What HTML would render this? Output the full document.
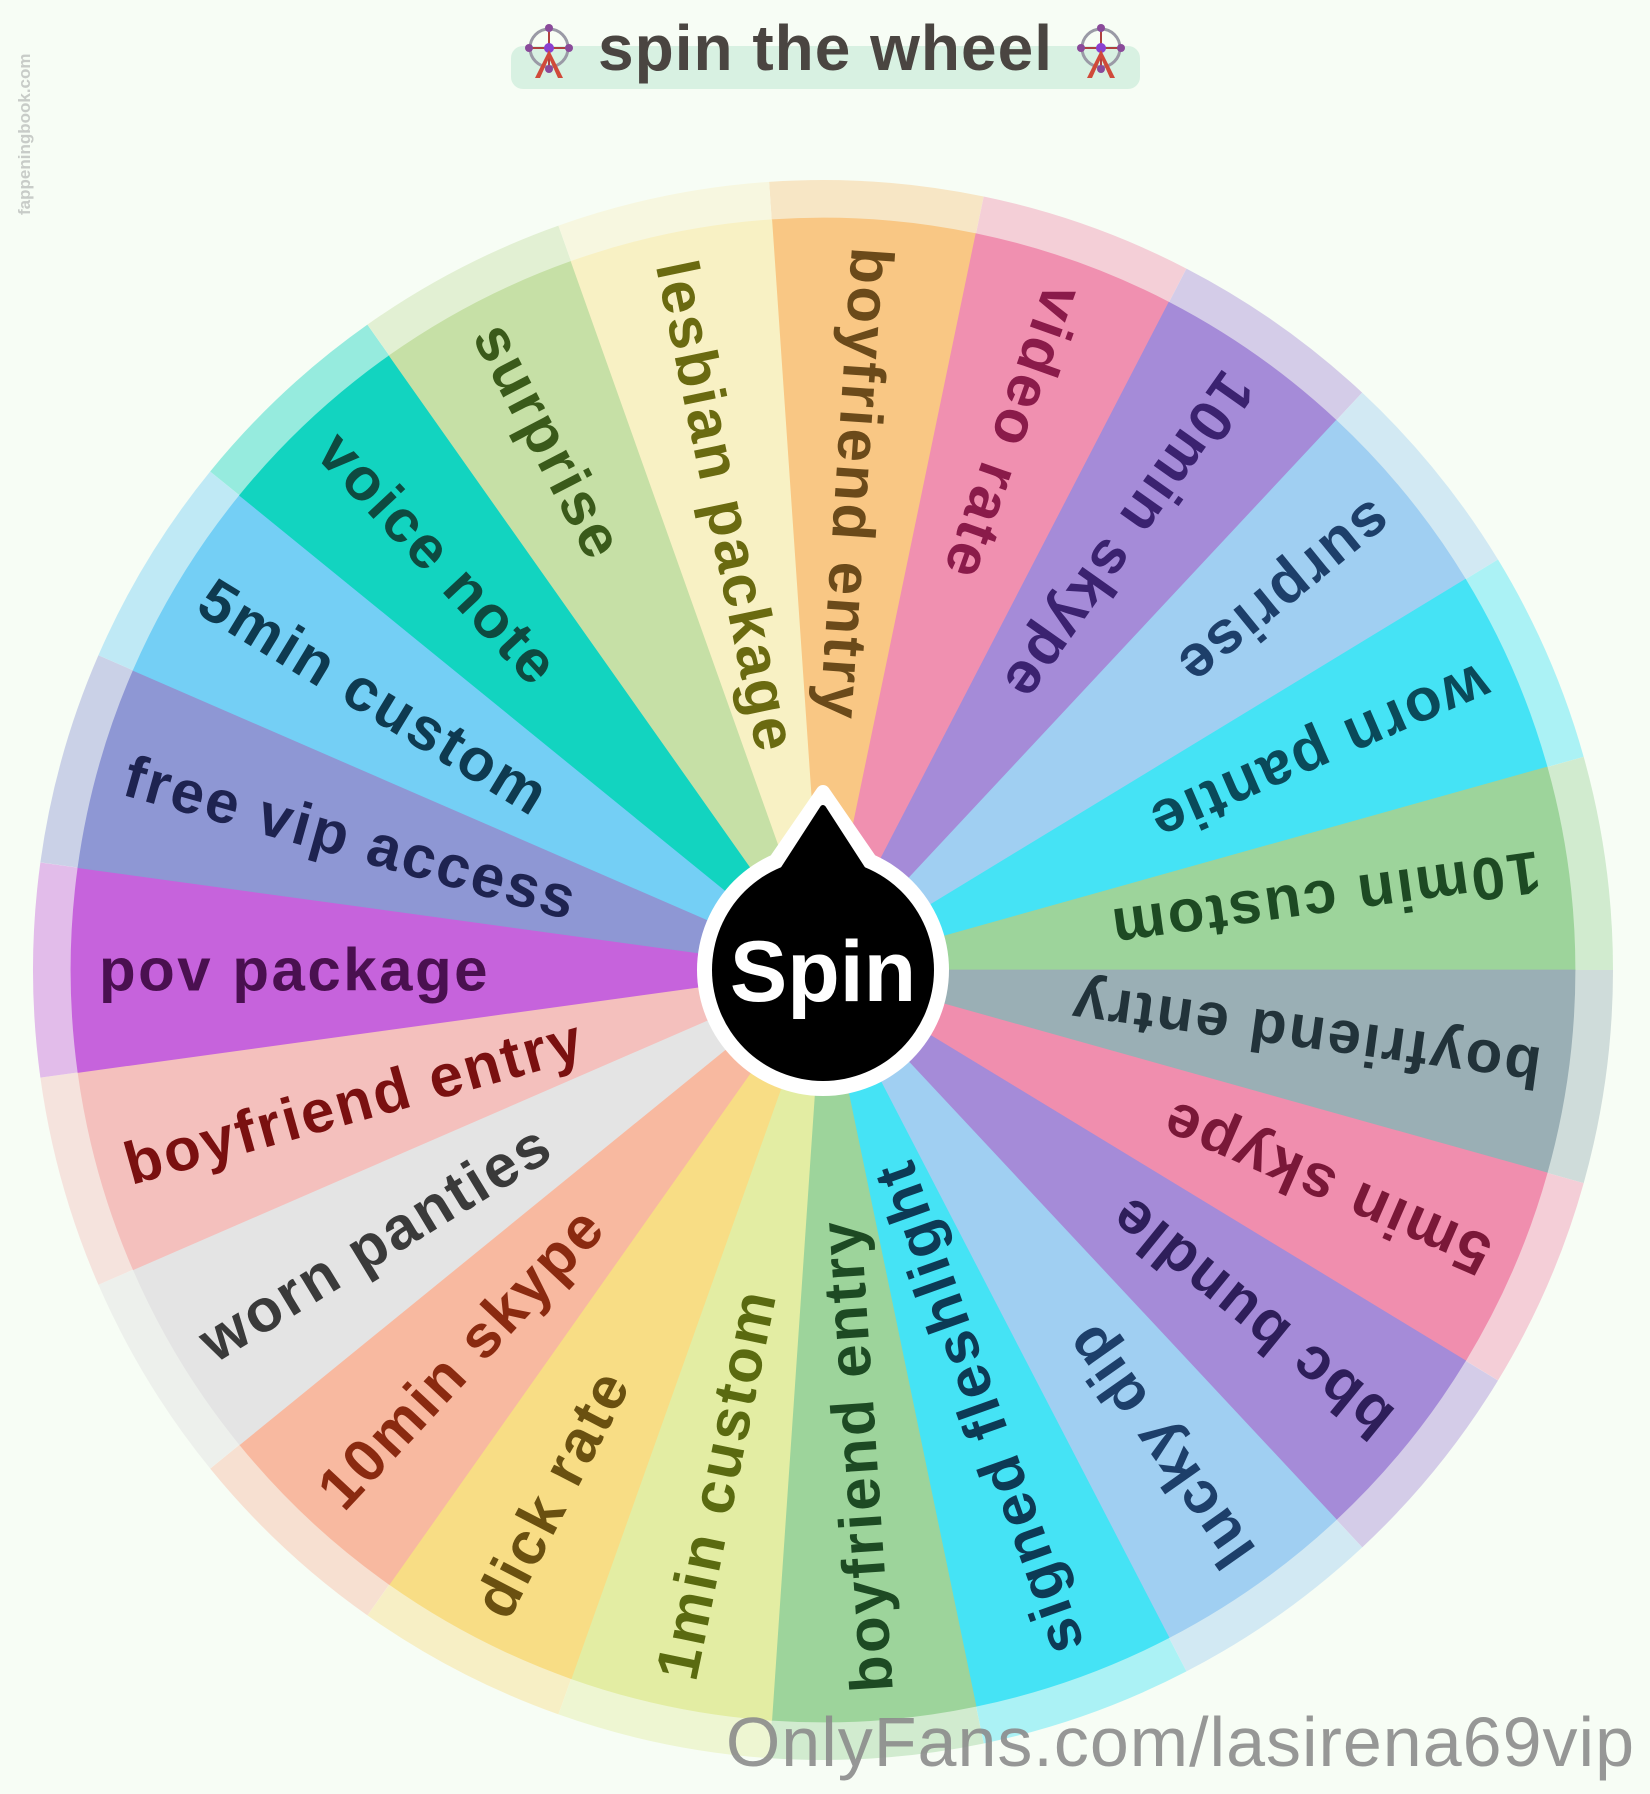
<!DOCTYPE html>
<html><head><meta charset="utf-8"><style>
html,body{margin:0;padding:0;background:#f7fdf5;}
svg{display:block;}
text{font-family:"Liberation Sans",sans-serif;}
</style></head><body>
<svg width="1650" height="1794" viewBox="0 0 1650 1794" xmlns="http://www.w3.org/2000/svg">
<rect width="1650" height="1794" fill="#f7fdf5"/>
<defs>
<path id="o" d="M823 970 L823 180 A790 790 0 0 1 1036.1 209.3 Z"/>
<path id="w" d="M823 970 L823 218 A752 752 0 0 1 1025.9 245.9 Z"/>
</defs>
<!-- title -->
<rect x="511" y="46" width="629" height="43" rx="12" fill="#d8f1e2"/>
<text x="598" y="70" font-size="64" font-weight="bold" fill="#4a4541" letter-spacing="1">spin the wheel</text>
<g id="fw" transform="translate(549 48)">
<circle r="19" fill="none" stroke="#9a9aa6" stroke-width="3"/>
<line x1="-19" y1="0" x2="19" y2="0" stroke="#b04040" stroke-width="2"/><line x1="0" y1="-19" x2="0" y2="19" stroke="#b04040" stroke-width="2"/>
<circle r="5" fill="#8a40d0"/>
<polygon points="0,2 -14,30 -9,30 0,10 9,30 14,30" fill="#d04a3a"/>
<circle cx="0" cy="-20" r="4" fill="#8a4a9a"/><circle cx="-20" cy="0" r="4" fill="#8a4a9a"/><circle cx="20" cy="0" r="4" fill="#8a4a9a"/><circle cx="0" cy="21" r="4" fill="#8a4a9a"/>
</g>
<use href="#fw" transform="translate(552 0)"/>
<!-- outer ring -->
<g opacity="0.42">
<use href="#o" fill="#f9c784" transform="rotate(-3.913 823 970)"/>
<use href="#o" fill="#f090b0" transform="rotate(11.739 823 970)"/>
<use href="#o" fill="#a58bd8" transform="rotate(27.391 823 970)"/>
<use href="#o" fill="#a0cff2" transform="rotate(43.043 823 970)"/>
<use href="#o" fill="#45e3f5" transform="rotate(58.696 823 970)"/>
<use href="#o" fill="#9dd49b" transform="rotate(74.348 823 970)"/>
<use href="#o" fill="#9aafb5" transform="rotate(90 823 970)"/>
<use href="#o" fill="#f08eae" transform="rotate(105.652 823 970)"/>
<use href="#o" fill="#a58bd8" transform="rotate(121.304 823 970)"/>
<use href="#o" fill="#a0cff2" transform="rotate(136.957 823 970)"/>
<use href="#o" fill="#45e3f5" transform="rotate(152.609 823 970)"/>
<use href="#o" fill="#9dd49b" transform="rotate(168.261 823 970)"/>
<use href="#o" fill="#e3eda3" transform="rotate(183.913 823 970)"/>
<use href="#o" fill="#f8dd85" transform="rotate(199.565 823 970)"/>
<use href="#o" fill="#f8b9a0" transform="rotate(215.217 823 970)"/>
<use href="#o" fill="#e0e0e0" transform="rotate(230.870 823 970)"/>
<use href="#o" fill="#f4c0bd" transform="rotate(246.522 823 970)"/>
<use href="#o" fill="#c663dc" transform="rotate(262.174 823 970)"/>
<use href="#o" fill="#8e97d4" transform="rotate(277.826 823 970)"/>
<use href="#o" fill="#74cff5" transform="rotate(293.478 823 970)"/>
<use href="#o" fill="#12d4c0" transform="rotate(309.130 823 970)"/>
<use href="#o" fill="#c6e0a6" transform="rotate(324.783 823 970)"/>
<use href="#o" fill="#f8f1c4" transform="rotate(340.435 823 970)"/>
</g>
<!-- wedges -->
<g stroke-width="0.8">
<use href="#w" fill="#f9c784" stroke="#f9c784" transform="rotate(-3.913 823 970)"/>
<use href="#w" fill="#f090b0" stroke="#f090b0" transform="rotate(11.739 823 970)"/>
<use href="#w" fill="#a58bd8" stroke="#a58bd8" transform="rotate(27.391 823 970)"/>
<use href="#w" fill="#a0cff2" stroke="#a0cff2" transform="rotate(43.043 823 970)"/>
<use href="#w" fill="#45e3f5" stroke="#45e3f5" transform="rotate(58.696 823 970)"/>
<use href="#w" fill="#9dd49b" stroke="#9dd49b" transform="rotate(74.348 823 970)"/>
<use href="#w" fill="#9aafb5" stroke="#9aafb5" transform="rotate(90 823 970)"/>
<use href="#w" fill="#f08eae" stroke="#f08eae" transform="rotate(105.652 823 970)"/>
<use href="#w" fill="#a58bd8" stroke="#a58bd8" transform="rotate(121.304 823 970)"/>
<use href="#w" fill="#a0cff2" stroke="#a0cff2" transform="rotate(136.957 823 970)"/>
<use href="#w" fill="#45e3f5" stroke="#45e3f5" transform="rotate(152.609 823 970)"/>
<use href="#w" fill="#9dd49b" stroke="#9dd49b" transform="rotate(168.261 823 970)"/>
<use href="#w" fill="#e3eda3" stroke="#e3eda3" transform="rotate(183.913 823 970)"/>
<use href="#w" fill="#f8dd85" stroke="#f8dd85" transform="rotate(199.565 823 970)"/>
<use href="#w" fill="#f8b9a0" stroke="#f8b9a0" transform="rotate(215.217 823 970)"/>
<use href="#w" fill="#e4e4e4" stroke="#e4e4e4" transform="rotate(230.870 823 970)"/>
<use href="#w" fill="#f4c0bd" stroke="#f4c0bd" transform="rotate(246.522 823 970)"/>
<use href="#w" fill="#c663dc" stroke="#c663dc" transform="rotate(262.174 823 970)"/>
<use href="#w" fill="#8e97d4" stroke="#8e97d4" transform="rotate(277.826 823 970)"/>
<use href="#w" fill="#74cff5" stroke="#74cff5" transform="rotate(293.478 823 970)"/>
<use href="#w" fill="#12d4c0" stroke="#12d4c0" transform="rotate(309.130 823 970)"/>
<use href="#w" fill="#c6e0a6" stroke="#c6e0a6" transform="rotate(324.783 823 970)"/>
<use href="#w" fill="#f8f1c4" stroke="#f8f1c4" transform="rotate(340.435 823 970)"/>
</g>
<!-- labels -->
<g font-size="60" font-weight="bold" dominant-baseline="central" letter-spacing="2.5">
<text transform="translate(823 970) rotate(93.913)" x="-724" y="0" fill="#6b4a1a">boyfriend entry</text>
<text transform="translate(823 970) rotate(109.565)" x="-724" y="0" fill="#8a1b4a">video rate</text>
<text transform="translate(823 970) rotate(125.217)" x="-724" y="0" fill="#3b2270">10min skype</text>
<text transform="translate(823 970) rotate(140.870)" x="-724" y="0" fill="#1d3f6a">surprise</text>
<text transform="translate(823 970) rotate(156.522)" x="-724" y="0" fill="#0a4a5a">worn pantie</text>
<text transform="translate(823 970) rotate(172.174)" x="-724" y="0" fill="#1d4a23">10min custom</text>
<text transform="translate(823 970) rotate(187.826)" x="-724" y="0" fill="#22333a">boyfriend entry</text>
<text transform="translate(823 970) rotate(203.478)" x="-724" y="0" fill="#7a1838">5min skype</text>
<text transform="translate(823 970) rotate(219.130)" x="-724" y="0" fill="#2e1e5a">bbc bundle</text>
<text transform="translate(823 970) rotate(234.783)" x="-724" y="0" fill="#1d3f6a">lucky dip</text>
<text transform="translate(823 970) rotate(250.435)" x="-724" y="0" fill="#0d3a55">signed fleshlight</text>
<text transform="translate(823 970) rotate(266.087)" x="-724" y="0" fill="#1d4a23">boyfriend entry</text>
<text transform="translate(823 970) rotate(281.739)" x="-724" y="0" fill="#5a6a10">1min custom</text>
<text transform="translate(823 970) rotate(297.391)" x="-724" y="0" fill="#6a5010">dick rate</text>
<text transform="translate(823 970) rotate(313.043)" x="-724" y="0" fill="#8a2a10">10min skype</text>
<text transform="translate(823 970) rotate(328.696)" x="-724" y="0" fill="#3a3a3a">worn panties</text>
<text transform="translate(823 970) rotate(344.348)" x="-724" y="0" fill="#7a1010">boyfriend entry</text>
<text transform="translate(823 970) rotate(360)" x="-724" y="0" fill="#4a1050">pov package</text>
<text transform="translate(823 970) rotate(375.652)" x="-724" y="0" fill="#1e2350">free vip access</text>
<text transform="translate(823 970) rotate(391.304)" x="-724" y="0" fill="#0e3a50">5min custom</text>
<text transform="translate(823 970) rotate(406.957)" x="-724" y="0" fill="#0e4a40">voice note</text>
<text transform="translate(823 970) rotate(422.609)" x="-724" y="0" fill="#3a5a1a">surprise</text>
<text transform="translate(823 970) rotate(438.261)" x="-724" y="0" fill="#6a6a10">lesbian package</text>
</g>
<!-- hub -->
<polygon points="823,792 752,895 894,895" fill="#fff" stroke="#fff" stroke-width="14" stroke-linejoin="round"/>
<circle cx="823" cy="970" r="126" fill="#fff"/>
<polygon points="823,808 768,893 878,893" fill="#000" stroke="#000" stroke-width="6" stroke-linejoin="round"/>
<circle cx="823" cy="970" r="111" fill="#000"/>
<text x="823" y="972" font-size="86" font-weight="bold" fill="#fff" text-anchor="middle" dominant-baseline="central">Spin</text>
<!-- watermarks -->
<text x="1635" y="1766" font-size="70" fill="#8c8c8c" text-anchor="end" opacity="0.9" letter-spacing="1">OnlyFans.com/lasirena69vip</text>
<text transform="translate(30 215) rotate(-90)" font-size="17" font-weight="bold" fill="#c8ccc8">fappeningbook.com</text>
</svg>
</body></html>
